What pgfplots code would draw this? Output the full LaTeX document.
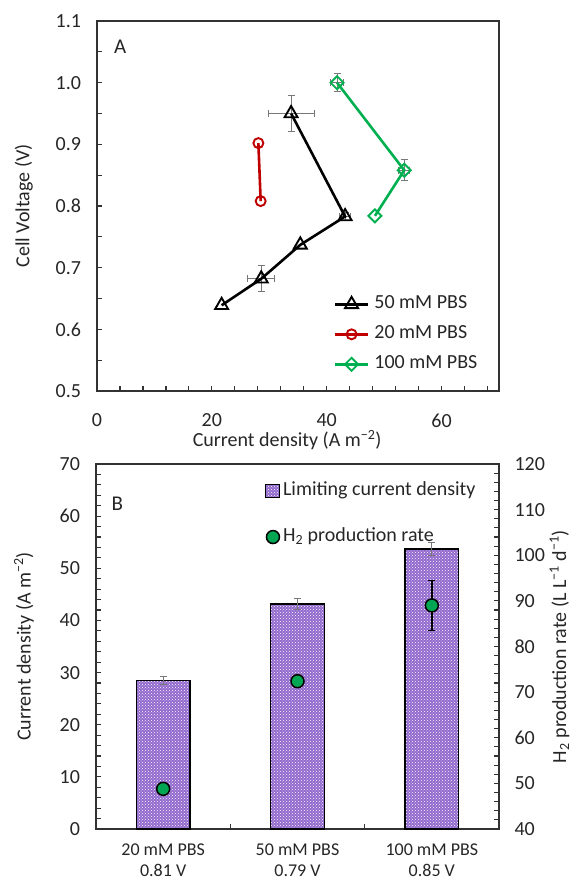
\documentclass[border=0pt]{standalone}
\usepackage{pgfplots}
\pgfplotsset{compat=1.18}
\usepackage{fontspec}
\setmainfont{Carlito}
\usetikzlibrary{patterns}

\definecolor{c50}{RGB}{0,0,0}
\definecolor{c20}{RGB}{192,0,0}
\definecolor{c100}{RGB}{0,176,80}
\definecolor{barfill}{RGB}{145,105,205}
\definecolor{dotgreen}{RGB}{0,166,81}
\definecolor{errgray}{RGB}{120,120,120}
\definecolor{frame}{RGB}{50,50,50}

\newcommand{\chartfont}{\fontsize{20}{24}\selectfont}

\pgfplotsset{
  panel/.style={
    scale only axis,
    axis line style={draw=frame, line width=1.5pt},
    tick style={draw=frame, line width=1.2pt},
    major tick length=5pt, minor tick length=5pt,
    tick align=inside,
    tick label style={font=\chartfont, text=black!85},
    label style={font=\chartfont, text=black!85},
    /pgf/number format/assume math mode=true,
    legend cell align=left,
  },
  errbars/.style={
    forget plot, draw=none, mark=none,
    error bars/.cd,
      x dir=both, x explicit, y dir=both, y explicit,
      error bar style={draw=errgray, solid, line width=1pt},
      error mark options={draw=errgray, solid, line width=1pt, mark size=3.5pt, rotate=90},
  },
  linelegend/.style={legend image code/.code={
    \draw[mark repeat=2, mark phase=2, ##1]
      plot coordinates {(0pt,0pt) (16.5pt,0pt) (33pt,0pt)};}},
  boxlegend/.style={legend image code/.code={
    \draw[##1] (0pt,-6.5pt) rectangle (14pt,6.5pt);}},
  dotlegend/.style={legend image code/.code={
    \draw[##1] plot coordinates {(7.5pt,0pt)};}},
}

\begin{document}
\begin{tikzpicture}
\path[use as bounding box] (0,0) rectangle (573pt,-881pt);

% ---------- panel A
\begin{axis}[panel,
  at={(97pt,-391pt)}, anchor=south west,
  width=402pt, height=370pt,
  xmin=0, xmax=70, ymin=0.5, ymax=1.1,
  tick pos=left,
  xtick={0,20,40,60},
  minor xtick={4,8,12,16,24,28,32,36,44,48,52,56,64,68},
  ytick={0.5,0.6,0.7,0.8,0.9,1.0,1.1},
  minor ytick={0.55,0.65,0.75,0.85,0.95,1.05},
  yticklabel style={xshift=-12.5pt, /pgf/number format/fixed,
    /pgf/number format/fixed zerofill, /pgf/number format/precision=1},
  xticklabel style={yshift=-19pt},
  xlabel={Current density (A m\textsuperscript{−2})},
  ylabel={Cell Voltage (V)},
  xlabel style={at={(axis description cs:0.473,-0.132)}, anchor=center},
  ylabel style={at={(axis description cs:-0.182,0.5)}, anchor=center},
  legend style={at={(axis description cs:0.589,0.26)}, anchor=north west,
    draw=none, fill=none, inner sep=0pt, outer sep=0pt,
    font=\chartfont, text=black!85, column sep=5pt, row sep=11pt,
    nodes={inner sep=0pt, text height=14pt, text depth=5pt}},
  linelegend,
]
% error bars (50 mM PBS)
\addplot[errbars] coordinates {
  (28.6,0.682) +- (2.35,0.021)
  (43.2,0.783) +- (1.0,0.006)
  (33.8,0.950) +- (4.0,0.029)
};
% error bars (100 mM PBS)
\addplot[errbars] coordinates {
  (41.8,1.000) +- (1.1,0.015)
  (53.5,0.858) +- (1.0,0.017)
};

\addplot[c50, line width=2.6pt, mark=triangle, mark size=7.5pt,
  mark options={solid, fill=white, line width=1.9pt}] coordinates {
  (21.7,0.639) (28.6,0.682) (35.4,0.737) (43.2,0.783) (33.8,0.950)
};
\addlegendentry{50 mM PBS}

\addplot[c20, line width=2.6pt, mark=o, mark size=5pt,
  mark options={solid, fill=white, line width=1.9pt}] coordinates {
  (28.1,0.902) (28.5,0.808)
};
\addlegendentry{20 mM PBS}

\addplot[c100, line width=2.6pt, mark=square, mark size=4.6pt,
  mark options={solid, fill=white, line width=1.9pt, rotate=45}] coordinates {
  (41.8,1.000) (53.5,0.858) (48.4,0.784)
};
\addlegendentry{100 mM PBS}

\node[font=\fontsize{21}{24}\selectfont, text=black!85] at (axis description cs:0.058,0.931) {A};
\end{axis}

% ---------- panel B, left axis (bars)
\begin{axis}[panel,
  at={(96pt,-829pt)}, anchor=south west,
  width=403pt, height=365pt,
  xmin=-0.5, xmax=2.5, ymin=0, ymax=70,
  tick pos=left,
  xtick={0,1,2}, minor xtick={0.5,1.5},
  xticklabels={{20 mM PBS\\0.81 V},{50 mM PBS\\0.79 V},{100 mM PBS\\0.85 V}},
  xticklabel style={align=center, font=\fontsize{18}{21}\selectfont, yshift=-11pt},
  ytick={0,10,...,70}, minor y tick num=4,
  yticklabel style={xshift=-12.5pt},
  ylabel={Current density (A m\textsuperscript{−2})},
  ylabel style={at={(axis description cs:-0.179,0.5)}, anchor=center},
]
\addplot[ybar, bar width=0.4, draw=black, line width=1.5pt,
  preaction={fill=barfill}, pattern=crosshatch dots, pattern color=white,
  error bars/.cd, y dir=both, y explicit,
  error bar style={draw=errgray, line width=1pt},
  error mark options={draw=errgray, line width=1pt, mark size=3.5pt, rotate=90}]
  coordinates {
  (0,28.5) +- (0,0.7)
  (1,43.2) +- (0,1.1)
  (2,53.7) +- (0,1.2)
};
\node[font=\fontsize{21}{24}\selectfont, text=black!85] at (axis description cs:0.053,0.892) {B};
\end{axis}

% ---------- panel B, right axis (H2 rate)
\begin{axis}[panel,
  at={(96pt,-829pt)}, anchor=south west,
  width=403pt, height=365pt,
  xmin=-0.5, xmax=2.5, ymin=40, ymax=120,
  axis x line=none, axis y line*=right,
  ytick={40,50,...,120}, minor y tick num=4,
  yticklabel style={xshift=12pt},
  ylabel={H\textsubscript{2} production rate (L L\textsuperscript{−1} d\textsuperscript{−1})},
  ylabel style={at={(axis description cs:1.150,0.5)}, anchor=center},
  legend style={at={(axis description cs:0.419,0.952)}, anchor=north west,
    draw=none, fill=none, inner sep=0pt, outer sep=0pt,
    font=\chartfont, text=black!85, column sep=3pt, row sep=27pt,
    nodes={inner sep=0pt, text height=14pt, text depth=5pt}},
]
\addlegendimage{boxlegend, draw=black, line width=1.2pt, preaction={fill=barfill},
  pattern=crosshatch dots, pattern color=white}
\addlegendentry{Limiting current density}

\addplot[forget plot, draw=none, mark=none,
  error bars/.cd, y dir=both, y explicit,
  error bar style={draw=black, line width=1.5pt},
  error mark options={draw=black, line width=1.5pt, mark size=3.5pt, rotate=90}]
  coordinates {
  (1,72.4) +- (0,1.3)
  (2,89.0) +- (0,5.5)
};
\addplot[only marks, mark=*, mark size=6.5pt, dotlegend,
  mark options={fill=dotgreen, draw=black, line width=1.5pt}]
  coordinates {
  (0,48.8) (1,72.4) (2,89.0)
};
\addlegendentry{H\textsubscript{2} production rate}
\end{axis}
\end{tikzpicture}
\end{document}
